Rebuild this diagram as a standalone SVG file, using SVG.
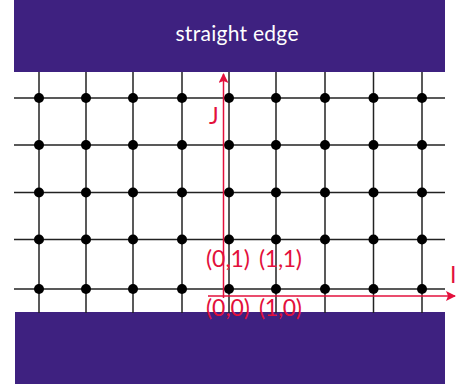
<svg xmlns="http://www.w3.org/2000/svg" width="456" height="390" viewBox="0 0 456 390">
<style>
.bar{fill:#3e2180}
.g{stroke:#222;stroke-width:1.5;fill:none}
.dot{fill:#000}
.ax{stroke:#e3103c;stroke-width:1.5;fill:none}
.lbl{font-family:"Lato","Open Sans",sans-serif;font-size:23px;fill:#e3103c}
.t{font-family:"Lato","Open Sans",sans-serif;font-size:21px;fill:#fff}
</style>
<defs>
<marker id="ah" markerWidth="10" markerHeight="10" refX="9" refY="5" orient="auto" markerUnits="userSpaceOnUse">
<path d="M0,0 L10,5 L0,10 L2,5 Z" fill="#e3103c"/>
</marker>
<g id="col">
<line class="g" x1="0" y1="72" x2="0" y2="313"/>
<circle class="dot" cx="0" cy="98" r="5"/>
<circle class="dot" cx="0" cy="145" r="5"/>
<circle class="dot" cx="0" cy="192.5" r="5"/>
<circle class="dot" cx="0" cy="239.5" r="5"/>
<circle class="dot" cx="0" cy="289" r="5"/>
</g>
</defs>
<g id="top-edge">
<rect class="bar" x="14" y="0" width="431" height="72"/>
<text class="t" x="237" y="41" text-anchor="middle" textLength="123">straight edge</text>
</g>
<g id="bottom-edge">
<rect class="bar" x="15" y="312" width="430" height="72"/>
</g>
<g id="grid">
<line class="g" x1="14" y1="98" x2="445" y2="98"/>
<line class="g" x1="14" y1="145" x2="445" y2="145"/>
<line class="g" x1="14" y1="192.5" x2="445" y2="192.5"/>
<line class="g" x1="14" y1="239.5" x2="445" y2="239.5"/>
<line class="g" x1="14" y1="289" x2="445" y2="289"/>
<use href="#col" x="39"/>
<use href="#col" x="86"/>
<use href="#col" x="133"/>
<use href="#col" x="182"/>
<use href="#col" x="229"/>
<use href="#col" x="276"/>
<use href="#col" x="325"/>
<use href="#col" x="373.5"/>
<use href="#col" x="422"/>
</g>
<g id="connectors">
<line class="ax" x1="223.5" y1="298" x2="223.5" y2="74" marker-end="url(#ah)"/>
<line class="ax" x1="208" y1="296" x2="455" y2="296" marker-end="url(#ah)"/>
</g>
<g id="labels">
<text class="lbl" x="209" y="124" font-size="24">J</text>
<text class="lbl" x="450" y="283">I</text>
<text class="lbl" x="206" y="267" textLength="44">(0,1)</text>
<text class="lbl" x="259" y="267" textLength="43">(1,1)</text>
<text class="lbl" x="206" y="316" textLength="44">(0,0)</text>
<text class="lbl" x="259" y="316" textLength="43">(1,0)</text>
</g>
</svg>
